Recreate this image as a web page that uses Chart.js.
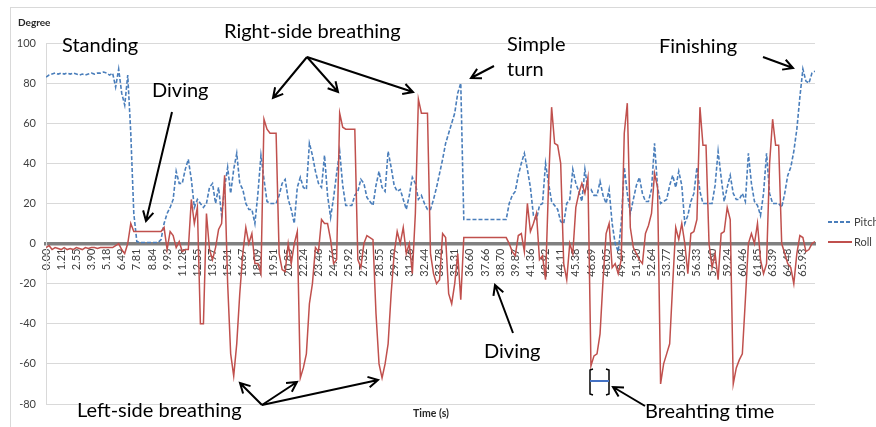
<!DOCTYPE html>
<html>
<head>
<meta charset="utf-8">
<script src="https://cdn.jsdelivr.net/npm/chart.js@4.4.1/dist/chart.umd.min.js"></script>
<style>
  html, body { margin: 0; padding: 0; background: #fff; }
</style>
</head>
<body>
<canvas id="chart" width="876" height="427"></canvas>
<script>
// time stamps printed under every 5th sample
const timeLabels = [
  "0.00", "1.21", "2.55", "3.90", "5.18", "6.49", "7.81", "8.84", "9.93", "11.28",
  "12.55", "13.97", "15.31", "16.67", "18.09", "19.51", "20.85", "22.24", "23.46", "24.76",
  "25.92", "27.32", "28.55", "29.79", "31.26", "32.44", "33.78", "35.31", "36.60", "37.66",
  "38.70", "39.87", "41.36", "42.92", "44.11", "45.38", "46.69", "48.05", "49.49", "51.30",
  "52.64", "53.77", "55.04", "56.33", "57.60", "59.24", "60.46", "61.85", "63.39", "64.48",
  "65.93"
];
const samplesPerLabel = 5;

// pitch angle (degree), one value per sample
const pitchDeg = [
  83, 84, 84.5, 85, 84.5, 85, 84.5, 85, 84.5, 85,
  84.5, 84, 84.5, 84, 84.5, 85, 84.5, 85, 85, 85.5,
  85, 84, 85, 78, 87, 75, 69, 84, 55, 15,
  1, 0.5, 0.5, 0.5, 0.5, 0.5, 0.5, 0.5, 2, 10,
  15, 18, 22, 36, 30, 30, 37, 42, 32, 18,
  22, 20, 18, 20, 28, 30, 20, 28, 14, 28,
  38, 25, 37, 45, 30, 27, 20, 17, 17, 10,
  25, 44, 32, 21, 20, 20, 20, 24, 30, 32,
  22, 17, 10, 28, 33, 28, 27, 50, 44, 36,
  30, 28, 44, 24, 13, 23, 35, 46, 29, 19,
  19, 19, 24, 26, 32, 30, 23, 21, 19, 29,
  36, 28, 26, 46, 38, 29, 26, 27, 22, 17,
  24, 33, 30, 22, 24, 20, 17, 17, 22, 28,
  35, 42, 50, 55, 60, 65, 75, 80, 12, 12,
  12, 12, 12, 12, 12, 12, 12, 12, 12, 12,
  12, 12, 12, 20, 24, 26, 34, 40, 45, 37,
  28, 14, 12, 19, 20, 40, 30, 21, 19, 17,
  11, 10, 20, 22, 37, 30, 26, 21, 37, 27,
  27, 24, 24, 31, 24, 20, 27, 10, 0, -4,
  10, 38, 25, 15, 22, 29, 33, 25, 21, 21,
  27, 50, 28, 20, 21, 22, 29, 34, 28, 36,
  29, 10, 14, 21, 25, 38, 26, 20, 20, 20,
  20, 29, 46, 33, 21, 28, 34, 25, 22, 22,
  25, 21, 45, 30, 21, 19, 14, 25, 45, 25,
  20, 20, 20, 18, 25, 34, 38, 46, 57, 73,
  87, 81, 80, 85, 86
];

// roll angle (degree), one value per sample
const rollDeg = [
  -2, -1, -3, -2, -2.5, -3, -2, -3, -2.5, -3,
  -2, -2.5, -3, -2, -2.5, -2, -2, -2.5, -2, -2,
  -2, -2, -2, -1, 0, -3, -5, 0, 10, 6,
  6, 6, 6, 6, 6, 6, 6, 6, 6, 8,
  -3, 6, 4, -2, 1, -4, -3, -3, 22, 10,
  18, -40, -40, 15, -3, -8, -2, 7, 10, 34,
  -20, -55, -66, -50, -25, -5, 8, 0, 5, -10,
  -10, -15, 62, 57, 55, 55, 55, -5, -13, -14,
  0, -10, 0, 6, -67, -62, -55, -30, -20, -2,
  -4, 12, 10, 10, 2, -10, -8, 65, 58, 57,
  57, 57, 57, -8, -12, 0, 4, 3, 2, -35,
  -60, -67, -60, -50, -25, -5, 6, 0, 8, -5,
  0, -15, 15, 72, 65, 65, 65, -5, -15, -20,
  -18, 5, 3, -25, -30, -20, -5, -28, 3, 3,
  3, 3, 3, 3, 3, 3, 3, 3, 3, 3,
  3, 3, 3, 0, -4, -6, 4, 5, -4, 20,
  6, 10, 15, -8, -6, -18, 30, 68, 50, 49,
  40, -10, -18, 0, -5, 18, 25, 30, 25, 33,
  -61, -56, -55, -45, -18, 5, 10, -12, -10, -15,
  -8, 55, 70, 8, -2, -5, -8, -10, 5, 9,
  15, 35, 28, -70, -60, -55, -50, -20, 8, 2,
  10, 0, -15, 5, 6, 12, 68, 49, 49, 0,
  -12, -5, -18, 5, 6, 18, 12, -70, -62, -58,
  -55, -28, 0, 5, 0, 10, -8, -15, -10, 40,
  62, 49, 49, 0, -5, -10, -12, -20, -5, 4,
  3, -4, -3, 0, 1
];

const seriesNames = ["Pitch", "Roll"];

// hand-placed annotations of the original figure (page pixels)
const notes = [
  { text: "Standing", x: 62, y: 52 },
  { text: "Diving", x: 152, y: 97 },
  { text: "Right-side breathing", x: 224, y: 38 },
  { text: "Simple", x: 507, y: 51 },
  { text: "turn", x: 507, y: 76 },
  { text: "Finishing", x: 659, y: 53 },
  { text: "Diving", x: 484, y: 358 },
  { text: "Left-side breathing", x: 77, y: 417 },
  { text: "Breahting time", x: 645, y: 418 }
];
const arrows = [
  [172, 112, 146, 221],
  [307, 57, 273, 98],
  [307, 57, 338, 92],
  [307, 57, 413, 92],
  [494, 66, 471, 78],
  [763, 57, 793, 68],
  [513, 333, 495, 285],
  [262, 405, 240, 383],
  [262, 405, 297, 382],
  [262, 405, 378, 380],
  [645, 406, 613, 387]
];

const PITCH_COLOR = "#4a7ebb";
const ROLL_COLOR = "#c0504d";

function drawArrow(ctx, x1, y1, x2, y2) {
  const a = Math.atan2(y2 - y1, x2 - x1);
  const len = 11, spread = 0.5;
  ctx.beginPath();
  ctx.moveTo(x1, y1);
  ctx.lineTo(x2, y2);
  ctx.moveTo(x2 - len * Math.cos(a - spread), y2 - len * Math.sin(a - spread));
  ctx.lineTo(x2, y2);
  ctx.lineTo(x2 - len * Math.cos(a + spread), y2 - len * Math.sin(a + spread));
  ctx.stroke();
}

const decorations = {
  id: "decorations",
  beforeDraw(chart) {
    const ctx = chart.ctx;
    ctx.save();
    ctx.fillStyle = "#fff";
    ctx.fillRect(0, 0, chart.width, chart.height);
    ctx.strokeStyle = "#d9d9d9";
    ctx.lineWidth = 1;
    ctx.strokeRect(10.5, 7.5, 2000, 2000);
    ctx.restore();
  },
  afterDraw(chart) {
    const ctx = chart.ctx;
    ctx.save();

    // axis titles
    ctx.fillStyle = "#262626";
    ctx.font = "bold 10px Lato";
    ctx.textBaseline = "middle";
    ctx.textAlign = "left";
    ctx.fillText("Degree", 18, 23);
    ctx.textAlign = "center";
    ctx.font = "bold 10.5px Lato";
    ctx.fillText("Time (s)", 431, 414);

    // legend
    const ds = chart.data.datasets;
    ctx.textAlign = "left";
    ctx.font = "11px Lato";
    ds.forEach((d, i) => {
      const y = 222 + i * 20;
      ctx.strokeStyle = d.borderColor;
      ctx.lineWidth = 2;
      ctx.setLineDash(d.borderDash || []);
      ctx.beginPath();
      ctx.moveTo(828, y);
      ctx.lineTo(852, y);
      ctx.stroke();
      ctx.setLineDash([]);
      ctx.fillStyle = "#404040";
      ctx.fillText(d.label, 854, y);
    });

    // annotations
    ctx.fillStyle = "#000";
    ctx.strokeStyle = "#000";
    ctx.lineWidth = 2;
    ctx.font = "20px Lato";
    ctx.textBaseline = "alphabetic";
    notes.forEach(n => ctx.fillText(n.text, n.x, n.y));
    arrows.forEach(a => drawArrow(ctx, a[0], a[1], a[2], a[3]));

    // breathing time bracket
    ctx.lineWidth = 1.5;
    ctx.beginPath();
    ctx.moveTo(593, 369); ctx.lineTo(590, 370); ctx.lineTo(590, 394); ctx.lineTo(593, 395);
    ctx.moveTo(606, 369); ctx.lineTo(609, 370); ctx.lineTo(609, 394); ctx.lineTo(606, 395);
    ctx.stroke();
    ctx.strokeStyle = "#4472c4";
    ctx.lineWidth = 2;
    ctx.beginPath();
    ctx.moveTo(590, 381); ctx.lineTo(609, 381);
    ctx.stroke();

    ctx.restore();
  }
};

const toPoints = arr => arr.map((v, i) => ({ x: i, y: v }));

new Chart(document.getElementById("chart"), {
  type: "line",
  data: {
    datasets: [
      {
        label: seriesNames[0],
        data: toPoints(pitchDeg),
        borderColor: PITCH_COLOR,
        borderWidth: 1.6,
        borderDash: [4, 2],
        pointRadius: 0,
        order: 2
      },
      {
        label: seriesNames[1],
        data: toPoints(rollDeg),
        borderColor: ROLL_COLOR,
        borderWidth: 1.5,
        pointRadius: 0,
        order: 1
      }
    ]
  },
  options: {
    responsive: false,
    animation: false,
    layout: { padding: { left: 0, right: 61, top: 43, bottom: 23 } },
    plugins: {
      legend: { display: false },
      tooltip: { enabled: false }
    },
    scales: {
      x: {
        type: "linear",
        position: { y: 0 },
        min: 0,
        max: pitchDeg.length - 1,
        grid: { display: false, drawTicks: false },
        border: { color: "#808080", width: 3.5 },
        afterBuildTicks: scale => {
          scale.ticks = timeLabels.map((_, k) => ({ value: k * samplesPerLabel }));
        },
        ticks: {
          autoSkip: false,
          maxRotation: 90,
          minRotation: 90,
          padding: 5,
          color: "#404040",
          font: { family: "Lato", size: 11 },
          callback: v => timeLabels[Math.round(v / samplesPerLabel)] ?? ""
        }
      },
      y: {
        min: -80,
        max: 100,
        afterFit: scale => { scale.width = 46; },
        grid: { color: "#d9d9d9", drawTicks: false },
        border: { color: "#d9d9d9" },
        ticks: {
          stepSize: 20,
          padding: 10,
          color: "#404040",
          font: { family: "Lato", size: 11 }
        }
      }
    }
  },
  plugins: [decorations]
});
</script>
</body>
</html>
